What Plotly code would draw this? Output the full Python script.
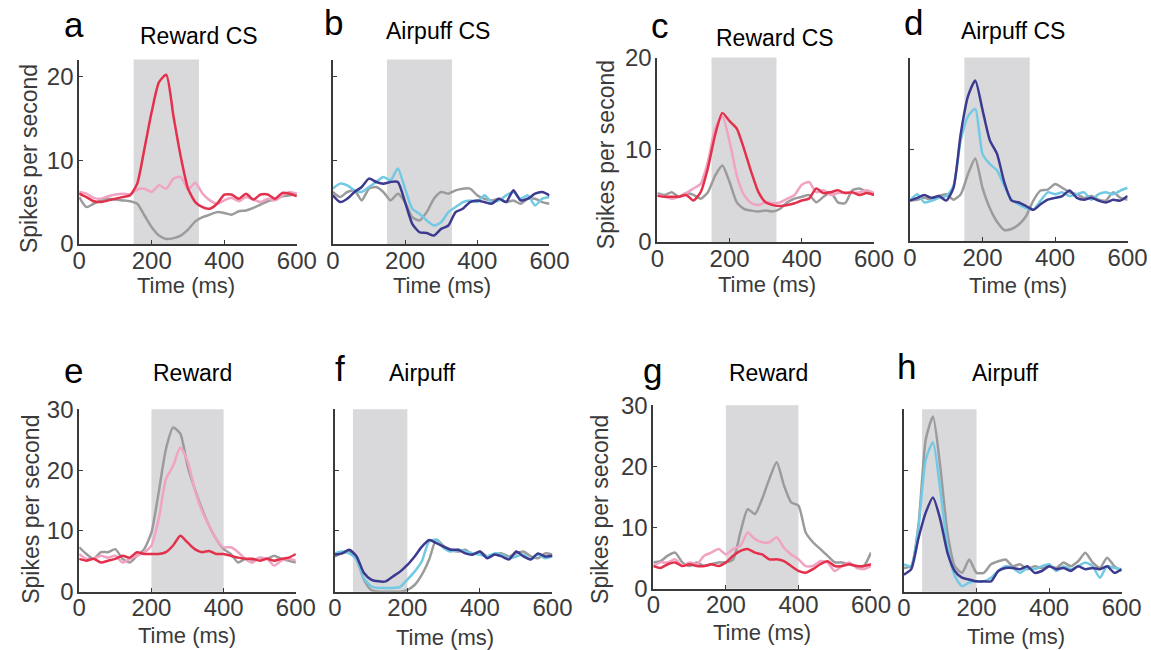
import plotly.graph_objects as go

# ---------------- data ----------------
TIME_MS = [0, 20, 40, 60, 80, 100, 120, 140, 160, 180, 200, 220, 240, 260, 280, 300,
           320, 340, 360, 380, 400, 420, 440, 460, 480, 500, 520, 540, 560, 580, 600]

PANEL_LETTERS = ["a", "b", "c", "d", "e", "f", "g", "h"]
PANEL_TITLES = ["Reward CS", "Airpuff CS", "Reward CS", "Airpuff CS",
                "Reward", "Airpuff", "Reward", "Airpuff"]
WINDOW_START = [150, 150, 150, 150, 200, 50, 200, 50]
WINDOW_END = [330, 330, 330, 330, 400, 200, 400, 200]
Y_MAX = [22, 22, 20, 20, 30, 30, 30, 30]
X_TICKS = [0, 200, 400, 600]
Y_TICKS_TOP = [0, 10, 20]
Y_TICKS_BOTTOM = [0, 10, 20, 30]
X_TITLE = "Time (ms)"
Y_TITLE = "Spikes per second"

# panel a - Reward CS
A_GRAY = [5.6, 4.4, 4.8, 5.2, 5.4, 5.3, 5.2, 5.1, 4.8, 3.4, 2.0, 1.0, 0.6, 0.7, 1.0, 1.7,
          2.7, 3.2, 3.5, 3.8, 3.7, 3.5, 3.9, 4.0, 4.3, 4.7, 5.1, 5.3, 5.7, 5.8, 6.0]
A_PINK = [6.2, 6.0, 5.5, 5.4, 5.7, 5.9, 6.0, 5.9, 6.5, 6.6, 6.2, 7.0, 6.6, 7.8, 8.0, 6.5,
          7.3, 6.0, 5.2, 4.8, 5.2, 5.5, 5.1, 5.6, 5.3, 5.0, 5.4, 5.2, 5.8, 6.2, 6.0]
A_RED = [6.0, 5.6, 5.1, 5.0, 5.2, 5.4, 5.6, 5.8, 7.2, 11.4, 15.8, 19.3, 20.2, 15.2, 10.4, 6.6,
         5.0, 4.4, 4.2, 4.8, 5.9, 5.9, 5.4, 6.0, 5.3, 5.9, 5.9, 5.4, 6.1, 6.0, 5.7]

# panel b - Airpuff CS
B_GRAY = [6.2, 5.6, 6.2, 6.4, 5.2, 6.6, 6.8, 6.2, 5.2, 6.0, 5.0, 3.2, 2.8, 3.8, 5.4, 6.2,
          6.0, 6.4, 6.6, 6.6, 5.8, 5.4, 5.2, 5.4, 5.0, 5.2, 4.8, 5.4, 5.4, 5.0, 4.8]
B_CYAN = [6.6, 7.2, 7.0, 6.4, 6.2, 6.8, 7.4, 8.0, 7.6, 9.0, 6.6, 4.2, 3.6, 2.8, 2.2, 2.6,
          3.8, 4.4, 5.0, 5.2, 5.0, 5.8, 5.0, 5.2, 5.8, 6.2, 5.4, 5.8, 4.6, 5.4, 5.6]
B_NAVY = [5.8, 5.0, 5.4, 6.2, 6.8, 7.8, 7.4, 7.2, 7.4, 7.4, 5.0, 2.4, 1.4, 1.3, 1.0, 1.8,
          2.2, 3.8, 4.2, 5.0, 5.2, 5.0, 4.8, 5.4, 5.0, 6.4, 5.2, 5.4, 6.0, 6.2, 5.8]

# panel c - Reward CS
C_GRAY = [5.3, 5.1, 5.4, 4.9, 5.3, 5.1, 4.7, 5.4, 7.2, 8.3, 6.5, 4.3, 3.6, 3.4, 3.3, 3.4,
          3.3, 3.6, 4.3, 4.7, 4.9, 5.1, 4.3, 4.9, 5.4, 4.3, 4.2, 5.6, 5.8, 5.4, 5.1]
C_PINK = [5.1, 4.9, 4.7, 4.9, 5.3, 5.8, 6.3, 8.7, 12.3, 13.6, 10.9, 7.2, 5.1, 4.2, 4.0, 4.3,
          4.2, 4.3, 4.7, 5.1, 6.2, 6.5, 5.4, 5.6, 5.1, 5.3, 5.4, 5.3, 5.4, 5.6, 5.3]
C_RED = [5.0, 4.9, 4.9, 4.9, 5.1, 4.5, 5.4, 8.0, 11.6, 14.0, 13.1, 12.3, 10.1, 7.6, 5.4, 4.3,
         4.0, 3.9, 4.0, 4.2, 4.5, 4.7, 5.8, 5.3, 5.4, 5.6, 5.3, 5.4, 5.1, 5.3, 5.1]

# panel d - Airpuff CS
D_GRAY = [4.4, 4.5, 4.7, 4.5, 4.9, 5.1, 4.5, 5.1, 7.3, 9.0, 5.8, 3.6, 2.1, 1.2, 1.3, 1.8,
          2.7, 4.4, 5.5, 5.6, 6.2, 5.8, 5.3, 5.1, 4.7, 4.9, 4.5, 4.4, 5.3, 4.7, 4.5]
D_CYAN = [4.4, 5.1, 4.2, 4.4, 4.7, 4.9, 6.0, 11.0, 13.6, 14.4, 9.5, 8.4, 7.7, 6.0, 4.5, 4.0,
          3.6, 3.4, 4.4, 5.3, 5.1, 5.3, 4.9, 5.1, 5.3, 4.5, 5.1, 5.3, 5.1, 5.5, 5.8]
D_NAVY = [4.4, 4.7, 5.0, 4.7, 4.9, 4.4, 5.8, 11.7, 15.8, 17.5, 14.3, 11.0, 9.5, 6.4, 4.4, 4.2,
          3.8, 3.4, 4.0, 4.5, 4.7, 4.9, 5.5, 4.7, 4.5, 4.7, 4.4, 4.2, 4.5, 4.4, 4.9]

# panel e - Reward
E_GRAY = [7.3, 6.2, 5.4, 6.5, 6.5, 7.0, 5.4, 4.8, 5.9, 7.0, 9.7, 16.3, 23.4, 27.0, 26.0, 20.7,
          16.9, 13.6, 10.8, 8.6, 7.0, 6.2, 4.8, 5.4, 5.1, 5.6, 5.4, 5.9, 5.4, 5.1, 4.8]
E_PINK = [6.2, 5.4, 5.4, 5.9, 5.6, 5.9, 4.8, 5.4, 5.9, 6.5, 7.6, 11.9, 18.5, 20.7, 23.7, 21.5,
          16.8, 13.3, 10.8, 8.6, 7.3, 7.3, 6.5, 5.4, 4.8, 5.6, 5.4, 4.3, 5.1, 5.4, 5.1]
E_RED = [5.4, 5.1, 5.4, 4.8, 5.1, 5.4, 5.9, 5.6, 6.5, 6.2, 6.2, 6.2, 6.5, 7.6, 9.2, 8.1,
         7.0, 6.5, 6.7, 6.2, 6.2, 5.9, 5.6, 5.4, 5.4, 5.1, 5.4, 5.1, 5.4, 5.6, 6.2]

# panel f - Airpuff
F_GRAY = [5.8, 6.3, 6.6, 5.3, 2.0, 0.3, 0.0, 0.0, 0.0, 0.0, 0.3, 1.1, 2.8, 5.3, 8.6, 7.5,
          6.9, 6.6, 6.9, 6.1, 6.6, 5.8, 6.1, 6.3, 5.8, 6.3, 6.6, 5.8, 5.5, 6.3, 6.1]
F_CYAN = [6.3, 6.6, 6.3, 5.3, 2.2, 0.9, 0.6, 0.6, 0.6, 0.8, 2.0, 3.3, 5.0, 8.3, 8.5, 7.2,
          6.6, 6.9, 6.6, 6.3, 6.1, 5.8, 6.3, 6.1, 5.5, 5.8, 6.1, 5.3, 6.1, 5.5, 5.8]
F_NAVY = [6.1, 6.3, 6.9, 5.8, 3.1, 2.0, 1.7, 1.7, 2.5, 3.3, 4.4, 5.8, 7.4, 8.5, 8.0, 7.4,
          6.9, 6.9, 6.3, 6.1, 6.6, 5.5, 6.1, 5.8, 5.3, 6.6, 5.8, 5.3, 6.3, 5.8, 5.9]

# panel g - Reward
G_GRAY = [4.3, 4.5, 5.4, 5.9, 4.3, 3.7, 4.3, 3.7, 4.0, 4.3, 4.3, 4.8, 9.2, 13.0, 12.2, 14.7,
          18.0, 20.7, 16.9, 14.1, 13.6, 9.2, 7.6, 6.5, 5.4, 4.3, 4.3, 4.0, 3.7, 3.7, 5.9]
G_PINK = [3.7, 4.3, 4.3, 4.8, 3.7, 4.3, 4.0, 5.4, 5.9, 6.5, 5.6, 6.5, 7.0, 9.2, 8.1, 7.6,
          7.6, 8.4, 6.7, 5.6, 4.8, 3.7, 3.7, 4.5, 4.3, 2.9, 3.7, 4.3, 3.4, 3.2, 3.7]
G_RED = [3.7, 3.4, 4.0, 4.3, 3.7, 4.0, 3.7, 3.7, 4.0, 3.7, 4.3, 5.4, 6.2, 6.5, 5.9, 5.6,
         4.8, 4.8, 4.5, 3.7, 2.9, 2.6, 3.2, 4.0, 4.5, 3.7, 3.7, 4.0, 3.7, 3.7, 4.0]

# panel h - Airpuff
H_GRAY = [3.9, 4.2, 11.0, 25.0, 28.8, 20.6, 9.7, 4.2, 3.1, 5.3, 3.1, 3.1, 4.5, 5.0, 5.3, 4.2,
          4.5, 3.7, 4.2, 3.9, 4.2, 3.9, 4.8, 4.2, 5.0, 6.4, 4.8, 3.9, 5.6, 4.2, 3.4]
H_CYAN = [4.5, 4.2, 10.5, 21.7, 24.6, 16.8, 7.5, 2.6, 0.9, 1.5, 1.7, 1.7, 2.3, 3.4, 4.2, 3.9,
          3.1, 3.9, 3.7, 4.2, 4.5, 3.4, 4.2, 3.7, 4.2, 4.8, 4.2, 2.3, 4.2, 3.9, 3.7]
H_NAVY = [2.8, 3.7, 8.8, 13.0, 15.5, 11.9, 6.4, 3.4, 2.3, 2.0, 1.7, 1.7, 1.7, 3.4, 3.9, 3.9,
          3.7, 4.2, 3.1, 3.4, 4.2, 3.7, 3.9, 3.4, 4.2, 3.7, 3.9, 3.7, 4.2, 3.1, 3.7]

# ---------------- styling ----------------
W, H = 1151, 650
RED = "#e3304b"
PINK = "#f0a3c2"
GRAY = "#9b9b9b"
CYAN = "#72c9e4"
NAVY = "#3b3a8f"
SHADE = "#d9d9dc"
AXIS_COLOR = "#3a3a3a"
FONT = "Arial, Liberation Sans, sans-serif"

PANEL_SERIES = [
    [(A_GRAY, GRAY), (A_PINK, PINK), (A_RED, RED)],
    [(B_GRAY, GRAY), (B_CYAN, CYAN), (B_NAVY, NAVY)],
    [(C_GRAY, GRAY), (C_PINK, PINK), (C_RED, RED)],
    [(D_GRAY, GRAY), (D_CYAN, CYAN), (D_NAVY, NAVY)],
    [(E_GRAY, GRAY), (E_PINK, PINK), (E_RED, RED)],
    [(F_GRAY, GRAY), (F_CYAN, CYAN), (F_NAVY, NAVY)],
    [(G_GRAY, GRAY), (G_PINK, PINK), (G_RED, RED)],
    [(H_GRAY, GRAY), (H_CYAN, CYAN), (H_NAVY, NAVY)],
]

# target plot area geometry in picture pixels: (left, right, top, bottom)
GEOM = [
    (77, 295, 58, 242),
    (331, 548, 58, 242),
    (656, 873, 56, 240),
    (909, 1127, 56, 239),
    (77, 294, 407, 589),
    (333, 551, 407, 589),
    (652, 870, 403, 586),
    (903, 1121, 407, 589),
]
SHOW_Y_LABELS = [True, False, True, False, True, False, True, False]
# target text positions in picture pixels
LETTER_POS = [(72, 23), (332, 21), (659, 24), (913, 21), (71, 368), (338, 366), (651, 368), (906, 364)]
TITLE_POS = [(197, 34), (436, 29), (774, 36), (1012, 29), (190, 371), (421, 371), (767, 371), (1005, 371)]
XTITLE_POS = [(184, 283), (440, 283), (766, 282), (1017, 283), (185, 633), (443, 635), (761, 630), (1015, 634)]
YTITLE_POS = [(27, 157), None, (604, 153), None, (28, 507), None, (598, 507), None]

# the photographed page comes out slightly shrunk; place things so they land on target
SX, OX = 0.978, 4.7
SY, OY = 0.9565, 12.5


def px_x(p):
    return ((p - OX) / SX) / W


def px_y(p):
    return 1 - ((p - OY) / SY) / H


fig = go.Figure()
layout = dict(
    width=W, height=H,
    margin=dict(l=0, r=0, t=0, b=0, pad=0),
    paper_bgcolor="white", plot_bgcolor="white",
    showlegend=False,
    font=dict(family=FONT, color=AXIS_COLOR),
    shapes=[], annotations=[],
)

for i in range(8):
    k = "" if i == 0 else str(i + 1)
    xa, ya = "x" + k, "y" + k
    left, right, top, bottom = GEOM[i]
    for series, color in PANEL_SERIES[i]:
        fig.add_trace(go.Scatter(
            x=TIME_MS, y=series, mode="lines", xaxis=xa, yaxis=ya,
            line=dict(color=color, width=2.5, shape="spline", smoothing=0.6),
            hoverinfo="skip",
        ))
    yticks = Y_TICKS_TOP if Y_MAX[i] <= 22 else Y_TICKS_BOTTOM
    layout["xaxis" + k] = dict(
        domain=[px_x(left), px_x(right)], anchor=ya, range=[0, 600],
        tickvals=X_TICKS, ticks="inside", ticklen=4, tickwidth=1.3, tickcolor=AXIS_COLOR,
        showline=True, linecolor=AXIS_COLOR, linewidth=1.7, showgrid=False, zeroline=False,
        ticklabelstandoff=-6,
        tickfont=dict(size=24, color=AXIS_COLOR, family=FONT), fixedrange=True,
    )
    layout["yaxis" + k] = dict(
        domain=[px_y(bottom), px_y(top)], anchor=xa, range=[0, Y_MAX[i]],
        tickvals=yticks, ticks="inside", ticklen=4, tickwidth=1.3, tickcolor=AXIS_COLOR,
        showline=True, linecolor=AXIS_COLOR, linewidth=1.7, showgrid=False, zeroline=False,
        showticklabels=SHOW_Y_LABELS[i], ticklabelstandoff=-1,
        tickfont=dict(size=24, color=AXIS_COLOR, family=FONT), fixedrange=True,
    )
    layout["shapes"].append(dict(
        type="rect", xref=xa, yref=ya + " domain",
        x0=WINDOW_START[i], x1=WINDOW_END[i], y0=0, y1=1,
        fillcolor=SHADE, line=dict(width=0), layer="below",
    ))
    lx, ly = LETTER_POS[i]
    layout["annotations"].append(dict(
        text=PANEL_LETTERS[i], xref="paper", yref="paper", x=px_x(lx), y=px_y(ly),
        xanchor="center", yanchor="middle", showarrow=False,
        font=dict(size=35, color="black", family=FONT),
    ))
    tx, ty = TITLE_POS[i]
    layout["annotations"].append(dict(
        text=PANEL_TITLES[i], xref="paper", yref="paper", x=px_x(tx), y=px_y(ty),
        xanchor="center", yanchor="middle", showarrow=False,
        font=dict(size=23, color="black", family=FONT),
    ))
    ax, ay = XTITLE_POS[i]
    layout["annotations"].append(dict(
        text=X_TITLE, xref="paper", yref="paper", x=px_x(ax), y=px_y(ay),
        xanchor="center", yanchor="middle", showarrow=False,
        font=dict(size=22, color=AXIS_COLOR, family=FONT),
    ))
    if YTITLE_POS[i] is not None:
        yx, yy = YTITLE_POS[i]
        layout["annotations"].append(dict(
            text=Y_TITLE, xref="paper", yref="paper", x=px_x(yx), y=px_y(yy),
            xanchor="center", yanchor="middle", showarrow=False, textangle=-90,
            font=dict(size=23, color=AXIS_COLOR, family=FONT),
        ))

fig.update_layout(**layout)
fig.write_html(
    "out.html",
    config={"displayModeBar": False},
    post_script="document.body.style.margin='0';document.body.style.overflow='hidden';",
)
